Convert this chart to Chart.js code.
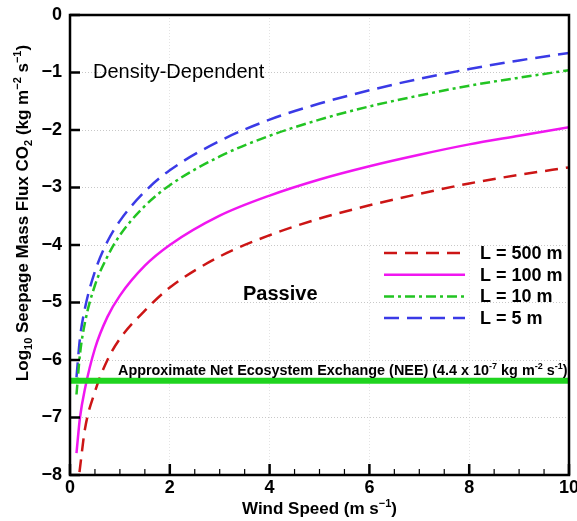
<!DOCTYPE html>
<html>
<head>
<meta charset="utf-8">
<script src="https://cdn.jsdelivr.net/npm/chart.js@4/dist/chart.umd.min.js"></script>
<style>
  html, body { margin: 0; padding: 0; background: #fff; }
</style>
</head>
<body>
<canvas id="fluxChart" width="577" height="521"></canvas>
<script>
// wind speed (m/s) and log10 seepage flux
const windL500 = [0.19, 0.3, 0.5, 0.75, 1, 1.5, 2, 3, 4, 5, 6, 7, 8, 9, 10];
const fluxL500 = [-7.95, -7.2, -6.55, -6.0, -5.63, -5.14, -4.74, -4.2, -3.83, -3.54, -3.31, -3.11, -2.93, -2.78, -2.65];

const windOthers = [0.13, 0.2, 0.3, 0.5, 0.75, 1, 1.5, 2, 3, 4, 5, 6, 7, 8, 9, 10];
const fluxL100 = [-7.62, -7.0, -6.5, -5.8, -5.25, -4.88, -4.36, -4.0, -3.49, -3.14, -2.86, -2.63, -2.43, -2.25, -2.1, -1.95];
const fluxL10 = [-6.6, -5.9, -5.35, -4.7, -4.2, -3.83, -3.32, -2.96, -2.46, -2.1, -1.82, -1.59, -1.4, -1.23, -1.09, -0.96];
const fluxL5 = [-6.3, -5.62, -5.1, -4.46, -3.94, -3.58, -3.07, -2.7, -2.19, -1.82, -1.54, -1.31, -1.11, -0.94, -0.79, -0.66];

const neeWind = [0, 10];
const neeValue = -6.36; // log10(4.4e-7)

const xTicks = [0, 2, 4, 6, 8, 10];
const yTicks = [0, -1, -2, -3, -4, -5, -6, -7, -8];

const FONT = "'Liberation Sans', Arial, Helvetica, sans-serif";

function pts(xs, ys) {
  return xs.map((x, i) => ({ x: x, y: ys[i] }));
}

// text with sub/superscripts
function richWidth(ctx, parts, size) {
  let w = 0;
  parts.forEach(p => {
    ctx.font = 'bold ' + (p.s ? Math.round(size * 0.62) : size) + 'px ' + FONT;
    w += ctx.measureText(p.t).width;
  });
  return w;
}
function drawRich(ctx, parts, x, y, size) {
  let cx = x;
  parts.forEach(p => {
    const fs = p.s ? Math.round(size * 0.62) : size;
    ctx.font = 'bold ' + fs + 'px ' + FONT;
    let dy = 0;
    if (p.s === 'sup') dy = -size * 0.42;
    if (p.s === 'sub') dy = size * 0.22;
    ctx.fillText(p.t, cx, y + dy);
    cx += ctx.measureText(p.t).width;
  });
}

const decorPlugin = {
  id: 'decor',
  afterDraw(chart) {
    const ctx = chart.ctx;
    const a = chart.chartArea;
    const xs = chart.scales.x, ys = chart.scales.y;
    ctx.save();
    ctx.fillStyle = '#000';
    ctx.strokeStyle = '#000';

    // inward ticks
    ctx.lineWidth = 2.5;
    yTicks.forEach(v => {
      const py = ys.getPixelForValue(v);
      ctx.beginPath(); ctx.moveTo(a.left, py); ctx.lineTo(a.left + 10, py); ctx.stroke();
    });
    xs.ticks.forEach(t => {
      const px = xs.getPixelForValue(t.value);
      const major = t.value % 2 === 0;
      ctx.lineWidth = major ? 2.5 : 1.2;
      ctx.beginPath(); ctx.moveTo(px, a.bottom); ctx.lineTo(px, a.bottom - (major ? 11 : 6)); ctx.stroke();
    });

    // frame
    ctx.lineWidth = 2.5;
    ctx.strokeRect(a.left, a.top, a.right - a.left, a.bottom - a.top);

    // region labels
    ctx.textBaseline = 'alphabetic';
    ctx.textAlign = 'left';
    ctx.font = '20px ' + FONT;
    ctx.fillText('Density-Dependent', 93, 78);
    ctx.font = 'bold 20px ' + FONT;
    ctx.fillText('Passive', 243, 300);

    // NEE label
    const neeParts = [
      { t: 'Approximate Net Ecosystem Exchange (NEE) (4.4 x 10' }, { t: '-7', s: 'sup' },
      { t: ' kg m' }, { t: '-2', s: 'sup' }, { t: ' s' }, { t: '-1', s: 'sup' }, { t: ')' }
    ];
    drawRich(ctx, neeParts, 118, ys.getPixelForValue(neeValue) - 6, 14.4);

    // legend
    const items = chart.data.datasets.filter(d => d.inLegend);
    items.forEach((d, i) => {
      const ly = 253 + i * 21.7;
      ctx.strokeStyle = d.borderColor;
      ctx.lineWidth = d.borderWidth;
      ctx.setLineDash(d.borderDash || []);
      ctx.beginPath(); ctx.moveTo(384, ly); ctx.lineTo(465, ly); ctx.stroke();
      ctx.setLineDash([]);
      ctx.fillStyle = '#000';
      ctx.font = 'bold 18px ' + FONT;
      ctx.textBaseline = 'middle';
      ctx.fillText(d.label, 480, ly + 1);
    });

    // x title
    ctx.textBaseline = 'alphabetic';
    const xParts = [{ t: 'Wind Speed (m s' }, { t: '\u22121', s: 'sup' }, { t: ')' }];
    const xw = richWidth(ctx, xParts, 17);
    drawRich(ctx, xParts, (a.left + a.right) / 2 - xw / 2, 514, 17);

    // y title
    const yParts = [
      { t: 'Log' }, { t: '10', s: 'sub' }, { t: ' Seepage Mass Flux CO' }, { t: '2', s: 'sub' },
      { t: ' (kg m' }, { t: '\u22122', s: 'sup' }, { t: ' s' }, { t: '\u22121', s: 'sup' }, { t: ')' }
    ];
    const yw = richWidth(ctx, yParts, 17);
    ctx.translate(28, 213);
    ctx.rotate(-Math.PI / 2);
    drawRich(ctx, yParts, -yw / 2, 0, 17);
    ctx.restore();
  }
};

new Chart(document.getElementById('fluxChart'), {
  type: 'line',
  data: {
    datasets: [
      {
        label: 'NEE',
        data: pts(neeWind, [neeValue, neeValue]),
        borderColor: '#1fd41f',
        borderWidth: 6,
        pointRadius: 0
      },
      {
        label: 'L = 500 m', inLegend: true,
        data: pts(windL500, fluxL500),
        borderColor: '#cc1515',
        borderWidth: 2.5,
        borderDash: [13, 8],
        pointRadius: 0,
        cubicInterpolationMode: 'monotone'
      },
      {
        label: 'L = 100 m', inLegend: true,
        data: pts(windOthers, fluxL100),
        borderColor: '#f016f0',
        borderWidth: 2.5,
        pointRadius: 0,
        cubicInterpolationMode: 'monotone'
      },
      {
        label: 'L = 10 m', inLegend: true,
        data: pts(windOthers, fluxL10),
        borderColor: '#22c422',
        borderWidth: 2.5,
        borderDash: [10, 4, 3, 4],
        pointRadius: 0,
        cubicInterpolationMode: 'monotone'
      },
      {
        label: 'L = 5 m', inLegend: true,
        data: pts(windOthers, fluxL5),
        borderColor: '#3a3ae6',
        borderWidth: 2.5,
        borderDash: [15, 8],
        pointRadius: 0,
        cubicInterpolationMode: 'monotone'
      }
    ]
  },
  options: {
    responsive: false,
    animation: false,
    layout: { padding: { top: 15, right: 8, left: 0, bottom: 0 } },
    plugins: {
      legend: { display: false },
      tooltip: { enabled: false }
    },
    scales: {
      x: {
        type: 'linear',
        min: 0,
        max: 10,
        afterFit(s) { s.height = 46; s.paddingLeft = 0; s.paddingRight = 0; },
        afterBuildTicks(s) {
          const t = [];
          for (let v = 0; v <= 10; v += 0.5) t.push({ value: v });
          s.ticks = t;
        },
        ticks: {
          autoSkip: false,
          maxRotation: 0,
          padding: 2,
          color: '#000',
          font: { family: FONT, size: 18, weight: 'bold' },
          callback: v => (xTicks.includes(v) ? String(v) : '')
        },
        border: { display: false, dash: [1, 2] },
        grid: {
          drawTicks: false,
          color: c => (c.tick && xTicks.includes(c.tick.value) && c.tick.value > 0 && c.tick.value < 10) ? '#e4e4e4' : 'rgba(0,0,0,0)',
          lineWidth: 1
        }
      },
      y: {
        min: -8,
        max: 0,
        afterFit(s) { s.width = 70; s.paddingTop = 0; s.paddingBottom = 0; },
        afterBuildTicks(s) { s.ticks = yTicks.map(v => ({ value: v })); },
        ticks: {
          padding: 8,
          color: '#000',
          font: { family: FONT, size: 18, weight: 'bold' },
          callback: v => (v === 0 ? '0' : '\u2212' + Math.abs(v))
        },
        border: { display: false, dash: [1, 2] },
        grid: {
          drawTicks: false,
          color: c => (c.tick && c.tick.value < 0 && c.tick.value > -8) ? '#c8c8c8' : 'rgba(0,0,0,0)',
          lineWidth: 1
        }
      }
    }
  },
  plugins: [decorPlugin]
});
</script>
</body>
</html>
